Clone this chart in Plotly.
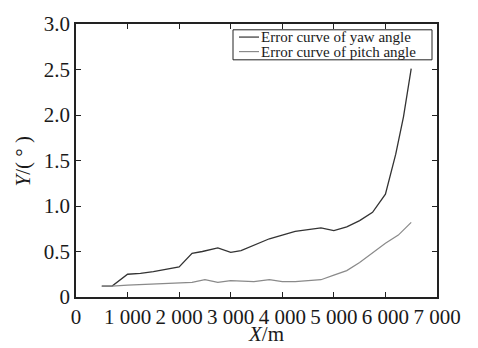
import plotly.graph_objects as go

x_yaw = [500, 700, 1000, 1250, 1500, 2000, 2250, 2450, 2750, 3000, 3200, 3750, 4000,
         4250, 4500, 4750, 5000, 5250, 5500, 5750, 6000, 6200, 6350, 6500]
yaw = [0.12, 0.12, 0.25, 0.26, 0.28, 0.33, 0.48, 0.50, 0.54, 0.49, 0.51, 0.64, 0.68,
       0.72, 0.74, 0.76, 0.73, 0.77, 0.84, 0.93, 1.13, 1.57, 1.98, 2.51]

x_pitch = [500, 700, 1000, 1500, 2000, 2250, 2500, 2750, 3000, 3450, 3750, 4000, 4250,
           4600, 4750, 5000, 5250, 5500, 5750, 6000, 6250, 6500]
pitch = [0.12, 0.12, 0.13, 0.14, 0.15, 0.16, 0.19, 0.16, 0.18, 0.17, 0.19, 0.17, 0.17,
         0.18, 0.19, 0.24, 0.29, 0.38, 0.49, 0.59, 0.68, 0.82]

x_ticks = [0, 1000, 2000, 3000, 4000, 5000, 6000, 7000]
x_ticktext = ["0", "1 000", "2 000", "3 000", "4 000", "5 000", "6 000", "7 000"]
y_ticks = [0, 0.5, 1.0, 1.5, 2.0, 2.5, 3.0]
y_ticktext = ["0", "0.5", "1.0", "1.5", "2.0", "2.5", "3.0"]

series_names = ["Error curve of yaw angle", "Error curve of pitch angle"]
series_colors = ["#333333", "#8a8a8a"]

serif = "Liberation Serif, Times New Roman, serif"
W, H = 478, 348
L, R, T, B = 76, 41, 15, 51
PW, PH = W - L - R, H - T - B


def px(x):
    return (x - L) / PW


def py(y):
    return (H - B - y) / PH


fig = go.Figure()
fig.add_trace(go.Scatter(x=x_yaw, y=yaw, mode="lines", name=series_names[0],
                         showlegend=False,
                         line=dict(color=series_colors[0], width=1.3)))
fig.add_trace(go.Scatter(x=x_pitch, y=pitch, mode="lines", name=series_names[1],
                         showlegend=False,
                         line=dict(color=series_colors[1], width=1.2)))

axis_common = dict(showgrid=False, zeroline=False, showline=True, linecolor="#222",
                   linewidth=1.5, mirror="ticks", ticks="inside", ticklen=5,
                   tickcolor="#222", tickwidth=1,
                   tickfont=dict(family=serif, size=21, color="#1a1a1a"))

fig.update_xaxes(range=[0, 7000], tickvals=x_ticks, ticktext=x_ticktext, **axis_common)
fig.update_yaxes(range=[0, 3.0], tickvals=y_ticks, ticktext=y_ticktext, **axis_common)

annotations = [
    dict(text="<i>X</i>/m", x=px(266), y=py(335.5), xref="paper", yref="paper",
         xanchor="center", yanchor="middle", showarrow=False,
         font=dict(family=serif, size=21, color="#1a1a1a")),
    dict(text="<i>Y</i>/( ° )", x=px(23), y=py(157), xref="paper", yref="paper",
         xanchor="center", yanchor="middle", showarrow=False, textangle=-90,
         font=dict(family=serif, size=21, color="#1a1a1a")),
]
shapes = [
    dict(type="rect", xref="paper", yref="paper", x0=px(233), x1=px(432),
         y0=py(52), y1=py(21), line=dict(color="#222", width=1), fillcolor="white",
         layer="above"),
]
row_y = [28.5, 43.5]
for name, color, yy in zip(series_names, series_colors, row_y):
    shapes.append(dict(type="line", xref="paper", yref="paper", x0=px(239), x1=px(259),
                       y0=py(yy), y1=py(yy), line=dict(color=color, width=1.2),
                       layer="above"))
    annotations.append(dict(text=name, x=px(259), y=py(yy), xref="paper", yref="paper",
                            xanchor="left", yanchor="middle", showarrow=False,
                            font=dict(family=serif, size=15, color="#1a1a1a")))

fig.update_layout(
    width=W, height=H,
    margin=dict(l=L, r=R, t=T, b=B),
    paper_bgcolor="white", plot_bgcolor="white",
    showlegend=False,
    annotations=annotations,
    shapes=shapes,
)

fig.write_html("out.html")
